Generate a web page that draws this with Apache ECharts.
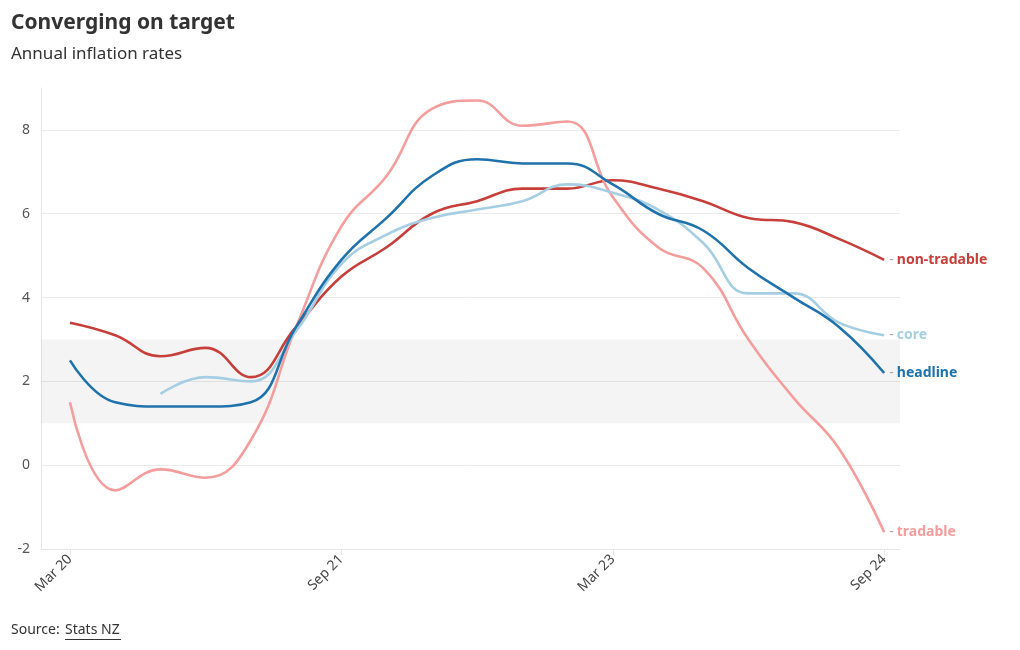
<!DOCTYPE html>
<html>
<head>
<meta charset="utf-8">
<script src="https://cdn.jsdelivr.net/npm/echarts@6/dist/echarts.min.js"></script>
<style>
  html, body { margin: 0; padding: 0; background: #fff; }
  #chart { width: 1020px; height: 650px; }
</style>
</head>
<body>
<div id="chart"></div>
<script>
// quarters, Mar 20 .. Sep 24
const quarters = ['Mar 20', 'Jun 20', 'Sep 20', 'Dec 20', 'Mar 21', 'Jun 21', 'Sep 21', 'Dec 21',
  'Mar 22', 'Jun 22', 'Sep 22', 'Dec 22', 'Mar 23', 'Jun 23', 'Sep 23', 'Dec 23', 'Mar 24', 'Jun 24', 'Sep 24']
const tickQuarters = ['Mar 20', 'Sep 21', 'Mar 23', 'Sep 24']
const yTicks = [-2, 0, 2, 4, 6, 8]
const targetBand = [1, 3]

const nonTradable = [3.4, 3.1, 2.6, 2.8, 2.1, 3.3, 4.5, 5.2, 6.0, 6.3, 6.6, 6.6, 6.8, 6.6, 6.3, 5.9, 5.8, 5.4, 4.9]
const headline = [2.5, 1.5, 1.4, 1.4, 1.5, 3.3, 4.9, 5.9, 6.9, 7.3, 7.2, 7.2, 6.7, 6.0, 5.6, 4.7, 4.0, 3.3, 2.2]
const core = [null, null, 1.7, 2.1, 2.0, 3.2, 4.8, 5.5, 5.9, 6.1, 6.3, 6.7, 6.5, 6.1, 5.3, 4.1, 4.1, 3.4, 3.1]
const tradable = [1.5, -0.6, -0.1, -0.3, 0.6, 3.3, 5.7, 6.9, 8.5, 8.7, 8.1, 8.2, 6.4, 5.2, 4.7, 3.0, 1.6, 0.4, -1.6]

const FONT = '"Noto Sans", sans-serif'

function pairs(arr) {
  return arr.map((v, i) => [i, v])
}

function lineSeries(name, data, color, width) {
  return {
    name: name,
    type: 'line',
    smooth: 0.45,
    symbol: 'none',
    connectNulls: false,
    lineStyle: { color: color, width: width },
    itemStyle: { color: color },
    data: pairs(data),
    endLabel: {
      show: true,
      distance: 5,
      formatter: '{d|-} {n|' + name + '}',
      rich: {
        d: { color: '#aaaaaa', fontSize: 14, fontFamily: FONT },
        n: { color: color, fontSize: 14, fontWeight: 'bold', fontFamily: FONT },
      },
    },
    emphasis: { disabled: true },
  }
}

const myChart = echarts.init(document.getElementById('chart'))

const tickIdx = tickQuarters.map((q) => quarters.indexOf(q))

const option = {
  animation: false,
  textStyle: { fontFamily: FONT },
  title: [
    {
      text: 'Converging on target',
      left: 11,
      top: 13,
      padding: 0,
      textStyle: { fontSize: 21, fontWeight: 'bold', color: '#333333', fontFamily: FONT },
    },
    {
      text: 'Annual inflation rates',
      left: 11,
      top: 46,
      padding: 0,
      textStyle: { fontSize: 17, fontWeight: 'normal', color: '#333333', fontFamily: FONT },
    },
  ],
  grid: { left: 41, right: 120, top: 88, bottom: 101, containLabel: false },
  xAxis: {
    type: 'value',
    min: -0.64,
    max: 18.35,
    axisLine: { show: true, onZero: false, lineStyle: { color: '#e6e6e6' } },
    axisTick: { show: true, customValues: tickIdx, length: 6, lineStyle: { color: '#e6e6e6' } },
    splitLine: { show: false },
    axisLabel: {
      customValues: tickIdx,
      rotate: 45,
      fontSize: 14,
      color: '#444444',
      margin: 8,
      formatter: (v) => quarters[Math.round(v)],
    },
  },
  yAxis: {
    type: 'value',
    min: yTicks[0],
    max: 9,
    interval: 2,
    axisLine: { show: true, onZero: false, lineStyle: { color: '#e6e6e6' } },
    axisTick: { show: false },
    splitLine: { show: true, showMaxLine: false, lineStyle: { color: '#ebebeb' } },
    axisLabel: { fontSize: 14, color: '#555555', margin: 11, showMaxLabel: false },
  },
  series: [
    Object.assign(lineSeries('non-tradable', nonTradable, '#c73f3b', 2.6), {
      markArea: {
        silent: true,
        itemStyle: { color: 'rgba(0,0,0,0.045)' },
        data: [[{ yAxis: targetBand[0] }, { yAxis: targetBand[1] }]],
      },
    }),
    lineSeries('tradable', tradable, '#f59d9d', 2.6),
    lineSeries('core', core, '#a6cee3', 2.6),
    lineSeries('headline', headline, '#1f72ab', 2.6),
  ],
  graphic: [
    {
      type: 'text',
      left: 11,
      top: 623,
      style: { text: 'Source: ', fontSize: 14, fill: '#333333', fontFamily: FONT },
    },
    {
      type: 'text',
      left: 65,
      top: 623,
      style: { text: 'Stats NZ', fontSize: 14, fill: '#333333', fontFamily: FONT },
    },
    {
      type: 'rect',
      left: 65,
      top: 639,
      shape: { width: 56, height: 1 },
      style: { fill: '#333333' },
    },
  ],
}

myChart.setOption(option)
</script>
</body>
</html>
